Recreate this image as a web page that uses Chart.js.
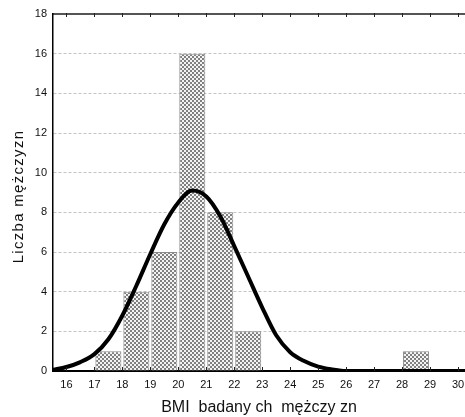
<!DOCTYPE html>
<html>
<head>
<meta charset="utf-8">
<script src="https://cdn.jsdelivr.net/npm/chart.js@4"></script>
<style>
	body { margin: 0; background: #fff; }
	#wrap { width: 465px; height: 417px; }
</style>
</head>
<body>
<div id="wrap"><canvas id="hist" width="465" height="417"></canvas></div>
<script>
// ================ data ================
const binCenters = [17.5, 18.5, 19.5, 20.5, 21.5, 22.5, 28.5];
const binCounts = [1, 4, 6, 16, 8, 2, 1];
// fitted normal curve
const curveX = [15.5, 16, 16.5, 17, 17.5, 18, 18.5, 19, 19.5, 20, 20.5, 21, 21.5, 22, 22.5, 23, 23.5, 24, 24.5, 25, 25.5, 26, 27, 28, 29, 30, 30.3];
const curveY = [0.05, 0.2, 0.45, 0.85, 1.6, 2.8, 4.3, 5.9, 7.4, 8.5, 9.1, 8.8, 7.8, 6.3, 4.75, 3.2, 1.8, 0.95, 0.5, 0.22, 0.08, 0, 0, 0, 0, 0, 0];
const xTicks = [16, 17, 18, 19, 20, 21, 22, 23, 24, 25, 26, 27, 28, 29, 30];
const yTicks = [0, 2, 4, 6, 8, 10, 12, 14, 16, 18];
const X_TITLE = "BMI  badany ch  mężczy zn";
const Y_TITLE = "Liczba mężczyzn";

const FONT = "'Liberation Sans', Arial, sans-serif";

// checkered fill of the bars
function checkerPattern() {
	const c = document.createElement("canvas");
	c.width = 4;
	c.height = 4;
	const g = c.getContext("2d");
	g.fillStyle = "#f4f4f4";
	g.fillRect(0, 0, 4, 4);
	g.fillStyle = "#808080";
	g.fillRect(0, 0, 2, 2);
	g.fillRect(2, 2, 2, 2);
	return g.createPattern(c, "repeat");
}

// small tick marks on the inside of bottom axis and on top frame
const innerTicks = {
	id: "innerTicks",
	afterDraw(chart) {
		const { ctx, chartArea } = chart;
		const x = chart.scales.x;
		ctx.save();
		ctx.strokeStyle = "#222";
		ctx.lineWidth = 1;
		for (const v of xTicks) {
			const px = Math.round(x.getPixelForValue(v)) + 0.5;
			ctx.beginPath();
			ctx.moveTo(px, chartArea.bottom);
			ctx.lineTo(px, chartArea.bottom - 4);
			ctx.moveTo(px, chartArea.top - 1);
			ctx.lineTo(px, chartArea.top + 3);
			ctx.stroke();
		}
		ctx.restore();
	},
};

// y title drawn by hand, the original has wide letter spacing
const yTitle = {
	id: "yTitle",
	afterDraw(chart) {
		const { ctx, chartArea } = chart;
		ctx.save();
		ctx.translate(19, (chartArea.top + chartArea.bottom) / 2 + 4);
		ctx.rotate(-Math.PI / 2);
		ctx.font = "15px " + FONT;
		ctx.letterSpacing = "1.3px";
		ctx.textAlign = "center";
		ctx.textBaseline = "middle";
		ctx.fillStyle = "#111";
		ctx.fillText(Y_TITLE, 0, 0);
		ctx.restore();
	},
};

const ctx = document.getElementById("hist");
const chart = new Chart(ctx, {
	type: "bar",
	data: {
		datasets: [
			{
				type: "line",
				data: curveX.map((v, i) => ({ x: v, y: curveY[i] })),
				borderColor: "#000",
				borderWidth: 4,
				pointRadius: 0,
				cubicInterpolationMode: "monotone",
				order: 1,
			},
			{
				data: binCenters.map((v, i) => ({ x: v, y: binCounts[i] })),
				backgroundColor: checkerPattern(),
				borderColor: "#8a8a8a",
				borderWidth: 1,
				barPercentage: 0.93,
				categoryPercentage: 1,
				order: 2,
			},
		],
	},
	options: {
		responsive: false,
		animation: false,
		devicePixelRatio: 1,
		layout: { padding: 0 },
		plugins: {
			legend: { display: false },
			tooltip: { enabled: false },
		},
		scales: {
			x: {
				type: "linear",
				position: "bottom",
				offset: false,
				min: 15.52,
				max: 30.25,
				afterBuildTicks: (s) => {
					s.ticks = xTicks.map((v) => ({ value: v }));
				},
				afterFit: (s) => {
					s.height = 46;
					s.paddingLeft = 0;
					s.paddingRight = 0;
				},
				grid: { display: false, drawTicks: false, offset: false },
				border: { color: "#000", width: 2 },
				ticks: {
					color: "#111",
					font: { family: FONT, size: 11 },
					padding: 7,
					maxRotation: 0,
					autoSkip: false,
				},
				title: {
					display: true,
					text: X_TITLE,
					color: "#111",
					font: { family: FONT, size: 16 },
					padding: { top: 0, bottom: 0 },
				},
			},
			x2: {
				type: "linear",
				position: "top",
				offset: false,
				min: 15.52,
				max: 30.25,
				afterFit: (s) => {
					s.height = 14;
					s.paddingLeft = 0;
					s.paddingRight = 0;
				},
				ticks: { display: false },
				grid: { display: false, drawTicks: false },
				border: { color: "#555", width: 2 },
			},
			y: {
				min: 0,
				max: 18,
				afterBuildTicks: (s) => {
					s.ticks = yTicks.map((v) => ({ value: v }));
				},
				afterFit: (s) => {
					s.width = 53;
				},
				grid: {
					drawTicks: false,
					color: (c) => (c.tick && (c.tick.value === 0 || c.tick.value === 18) ? "rgba(0,0,0,0)" : "#c4c4c4"),
					lineWidth: 1,
				},
				border: { color: "#000", width: 1.5, dash: [3, 2] },
				ticks: {
					color: "#111",
					font: { family: FONT, size: 11 },
					padding: 6,
				},
			},
		},
	},
	plugins: [innerTicks, yTitle],
});
</script>
</body>
</html>
